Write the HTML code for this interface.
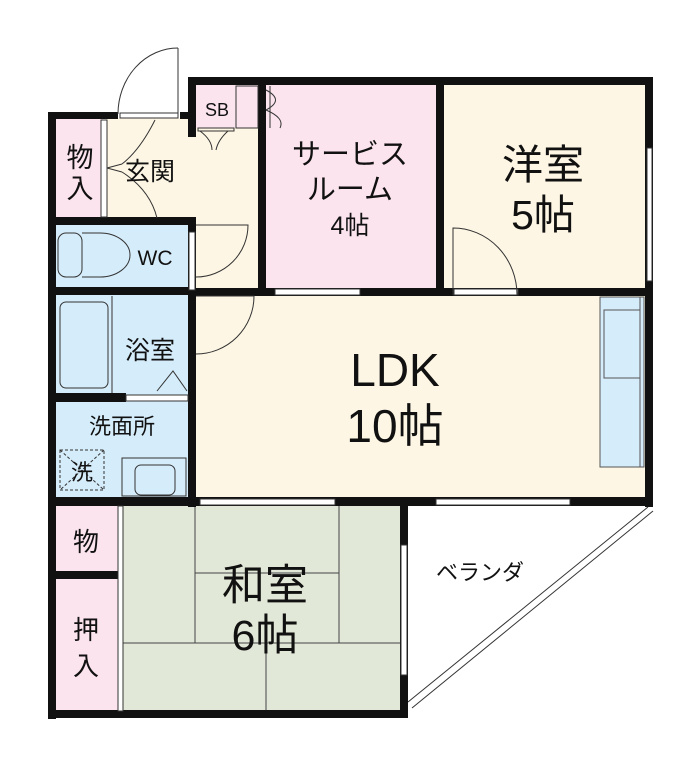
<!DOCTYPE html>
<html><head><meta charset="utf-8"><style>
html,body{margin:0;padding:0;background:#fff;}
svg{display:block;}
text{font-family:"Liberation Sans","Noto Sans CJK JP",sans-serif;fill:#111;text-anchor:middle;}
</style></head><body>
<svg width="700" height="762" viewBox="0 0 700 762" xmlns="http://www.w3.org/2000/svg">
<rect x="55" y="118" width="48" height="100" fill="#fbe4ee"/>
<rect x="105" y="118" width="90" height="100" fill="#fdf6e4"/>
<rect x="195" y="84" width="66" height="210" fill="#fdf6e4"/>
<rect x="196" y="84" width="62" height="44" fill="#fbe4ee"/>
<rect x="264" y="84" width="174" height="206" fill="#fbe4ee"/>
<rect x="442" y="84" width="205" height="206" fill="#fdf6e4"/>
<rect x="195" y="294" width="452" height="206" fill="#fdf6e4"/>
<rect x="55" y="224" width="135" height="66" fill="#d5ecfa"/>
<rect x="55" y="294" width="135" height="102" fill="#d5ecfa"/>
<rect x="55" y="400" width="135" height="100" fill="#d5ecfa"/>
<rect x="55" y="505" width="65" height="208" fill="#fbe4ee"/>
<rect x="122" y="505" width="280" height="206" fill="#e2e8d7"/>
<rect x="600" y="297" width="44" height="170" fill="#d5ecfa" stroke="#555" stroke-width="1"/>
<rect x="604" y="310" width="36" height="68" fill="none" stroke="#555" stroke-width="1"/>
<line x1="640" y1="297" x2="640" y2="467" stroke="#555"/>
<g stroke="#444" stroke-width="1">
<line x1="195" y1="505" x2="195" y2="643"/><line x1="339" y1="505" x2="339" y2="643"/>
<line x1="195" y1="573" x2="339" y2="573"/><line x1="122" y1="643" x2="402" y2="643"/>
<line x1="266" y1="643" x2="266" y2="711"/>
</g>
<g fill="#111">
<rect x="48" y="112" width="8" height="607"/>
<rect x="48" y="112" width="70" height="7"/>
<rect x="180" y="112" width="16" height="7"/>
<rect x="188" y="77" width="8" height="60"/>
<rect x="188" y="77" width="465" height="8"/>
<rect x="258" y="77" width="8" height="218"/>
<rect x="436" y="77" width="8" height="218"/>
<rect x="645" y="77" width="8" height="430"/>
<rect x="48" y="217" width="148" height="8"/>
<rect x="188" y="217" width="8" height="290"/>
<rect x="48" y="287" width="148" height="8"/>
<rect x="48" y="393" width="78" height="9"/>
<rect x="188" y="288" width="465" height="8"/>
<rect x="48" y="497" width="605" height="9"/>
<rect x="48" y="571" width="72" height="8"/>
<rect x="48" y="710" width="360" height="8"/>
<rect x="400" y="505" width="8" height="213"/>
</g>
<g fill="#fff" stroke="#333" stroke-width="1">
<rect x="275" y="289" width="85" height="6"/>
<rect x="454" y="289" width="64" height="6"/>
<rect x="200" y="499" width="135" height="6"/>
<rect x="436" y="499" width="134" height="6"/>
<rect x="401" y="545" width="6" height="130"/>
<rect x="647" y="148" width="5" height="133"/>
<rect x="126" y="395" width="62" height="6"/>
<rect x="189" y="232" width="6" height="58"/>
<rect x="101" y="120" width="6" height="97"/>
<rect x="118" y="506" width="5" height="205"/>
<rect x="120" y="113" width="58" height="5"/>
</g>
<g fill="none" stroke="#333" stroke-width="1">
<line x1="178" y1="48" x2="178" y2="114"/><path d="M178 48 A60 66 0 0 0 118 114"/>
<path d="M107 168 L122 164 M107 168 L122 172"/>
<path d="M155 120 Q140 150 122 164 M122 172 Q150 190 157 218"/>
<path d="M196 225 L248 225 A52 52 0 0 1 196 277"/>
<path d="M196 296 L254 296 A58 58 0 0 1 196 354"/>
<path d="M453 295 L453 228 A64 67 0 0 1 517 295"/>
<path d="M157 391 L173 371 L187 391"/>
<rect x="198" y="128" width="36" height="3"/>
<path d="M200 131 Q212 140 212 150 M228 131 Q218 140 216 150"/>
<rect x="236" y="86" width="22" height="42"/>
<path d="M266 90 Q285 100 266 110 M266 110 Q285 118 280 128"/>
<line x1="270" y1="86" x2="270" y2="128"/>
<rect x="58" y="233" width="24" height="44" rx="8"/>
<path d="M82 233 L100 233 A30 22 0 0 1 100 277 L82 277"/>
<rect x="60" y="302" width="48" height="86" rx="6"/>
<line x1="112" y1="296" x2="112" y2="393"/>
<rect x="60" y="450" width="44" height="40" stroke-dasharray="3,2"/>
<path d="M60 450 L104 490 M104 450 L60 490" stroke-dasharray="3,2"/>
<rect x="122" y="458" width="64" height="38"/>
<rect x="135" y="465" width="40" height="30" rx="6"/>
<path d="M648 507 L408 702 M653 511 L412 708"/>
</g>
<text x="80" y="167" font-size="27">物</text><text x="80" y="198" font-size="27">入</text>
<text x="150" y="180" font-size="25">玄関</text>
<text x="217" y="116" font-size="18">SB</text>
<text x="155" y="265" font-size="21">WC</text>
<text x="150" y="359" font-size="25">浴室</text>
<text x="122" y="434" font-size="22">洗面所</text>
<text x="82" y="480" font-size="22">洗</text>
<text x="350" y="164" font-size="29">サービス</text>
<text x="350" y="199" font-size="29">ルーム</text>
<text x="350" y="234" font-size="25">4帖</text>
<text x="543" y="179" font-size="41">洋室</text>
<text x="543" y="229" font-size="41">5帖</text>
<text x="395" y="386" font-size="46">LDK</text>
<text x="395" y="442" font-size="46">10帖</text>
<text x="265" y="600" font-size="43">和室</text>
<text x="265" y="650" font-size="43">6帖</text>
<text x="86" y="551" font-size="26">物</text>
<text x="86" y="639" font-size="26">押</text><text x="86" y="675" font-size="26">入</text>
<text x="480" y="580" font-size="22">ベランダ</text>
</svg>
</body></html>
